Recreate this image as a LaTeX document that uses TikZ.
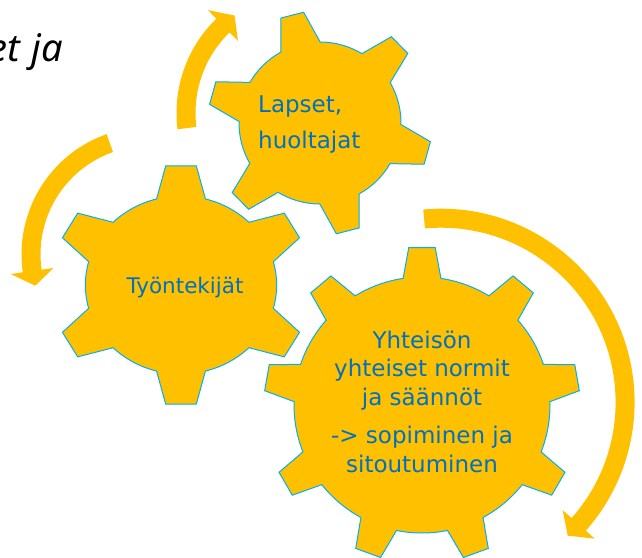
\documentclass[tikz,border=0pt]{standalone}
\usepackage{fontspec}
\setmainfont{DejaVu Sans}
\newfontfamily\titlefont{Noto Sans}
\definecolor{gold}{RGB}{255,192,0}
\definecolor{gearline}{RGB}{0,176,240}
\definecolor{labelblue}{RGB}{0,112,192}

% gear outline: #1 teeth, #2 first tooth angle, #3 root radius, #4 tip radius,
% #5 tooth base half-angle, #6 tooth tip half-angle
\newcommand\gearoutline[6]{%
  \pgfmathsetmacro\gstep{360/#1}%
  \pgfmathtruncatemacro\glast{#1-1}%
  \path[gearshape] ({#2-#5}:#3)
    \foreach \kk [evaluate=\kk as \ga using #2+\kk*\gstep] in {0,...,\glast} {
      -- ({\ga-#5}:#3) -- ({\ga-#6}:#4) -- ({\ga+#6}:#4) -- ({\ga+#5}:#3)
      arc[start angle=\ga+#5, end angle=\ga+\gstep-#5, radius=#3]
    } -- cycle;
}
% curved band arrow: #1 tail angle, #2 head base angle, #3 tip angle,
% #4 mid radius, #5 band half-width, #6 head half-width
\newcommand\bandarrow[6]{%
  \pgfmathsetmacro\rout{#4+#5}%
  \pgfmathsetmacro\rin{#4-#5}%
  \pgfmathsetmacro\hout{#4+#6}%
  \pgfmathsetmacro\hin{#4-#6}%
  \fill[arrowfill] (#1:\rout) arc[start angle=#1, end angle=#2, radius=\rout]
    -- (#2:\hout) -- (#3:#4) -- (#2:\hin) -- (#2:\rin)
    arc[start angle=#2, end angle=#1, radius=\rin] -- cycle;
}

\tikzset{
  gearshape/.style={fill=gold, draw=gearline, line width=1pt, line join=miter},
  arrowfill/.style={fill=gold},
  gearlabel/.style={text=labelblue, inner sep=0pt},
}

\begin{document}
\begin{tikzpicture}[x=1pt, y=-1pt]
\useasboundingbox (0,0) rectangle (642,557);
\clip (0,0) rectangle (642,557);

% title fragment (cut by the left edge, as in the reference)
\node[anchor=base east, inner sep=0pt, font=\titlefont\itshape\fontsize{38}{42}\selectfont] (title) at (63.5,61.7) {et\hspace{1.5pt} ja};

% curved arrows
\begin{scope}[shift={(308,113)}]
  \bandarrow{-187.1}{-134.2}{-127.0}{122}{9.5}{21.5}
\end{scope}
\begin{scope}[shift={(149,254.4)}]
  \bandarrow{-109.4}{-188.1}{-195.4}{118}{9.5}{21.5}
\end{scope}
\begin{scope}[shift={(441.1,402.2)}]
  \bandarrow{-95.3}{41.6}{46.5}{184}{9.5}{21.5}
\end{scope}

% gears
\begin{scope}[shift={(181,285)}, xscale=1.075]
  \gearoutline{6}{-90}{89}{120}{14.8}{6.8}
\end{scope}
\begin{scope}[shift={(320,123)}]
  \gearoutline{6}{-104.4}{81}{112}{14.5}{6}
\end{scope}
\begin{scope}[shift={(422,405)}]
  \gearoutline{9}{-90}{128}{158}{8.5}{4.8}
\end{scope}

% labels (base anchor = baseline of the last line)
\node[gearlabel, anchor=base, font=\fontsize{21.5}{26}\selectfont] (tyontekijat) at (185,293) {Työntekijät};
\node[gearlabel, align=left, anchor=base west, font=\fontsize{23}{27}\selectfont] (lapset) at (258,148) {Lapset,\\[9pt]huoltajat};
\node[gearlabel, align=center, anchor=base, font=\fontsize{23}{28.7}\selectfont] (yhteison) at (422,472.1) {Yhteisön\\yhteiset normit\\ja säännöt\\[9.3pt]-> sopiminen ja\\sitoutuminen};
\end{tikzpicture}
\end{document}
